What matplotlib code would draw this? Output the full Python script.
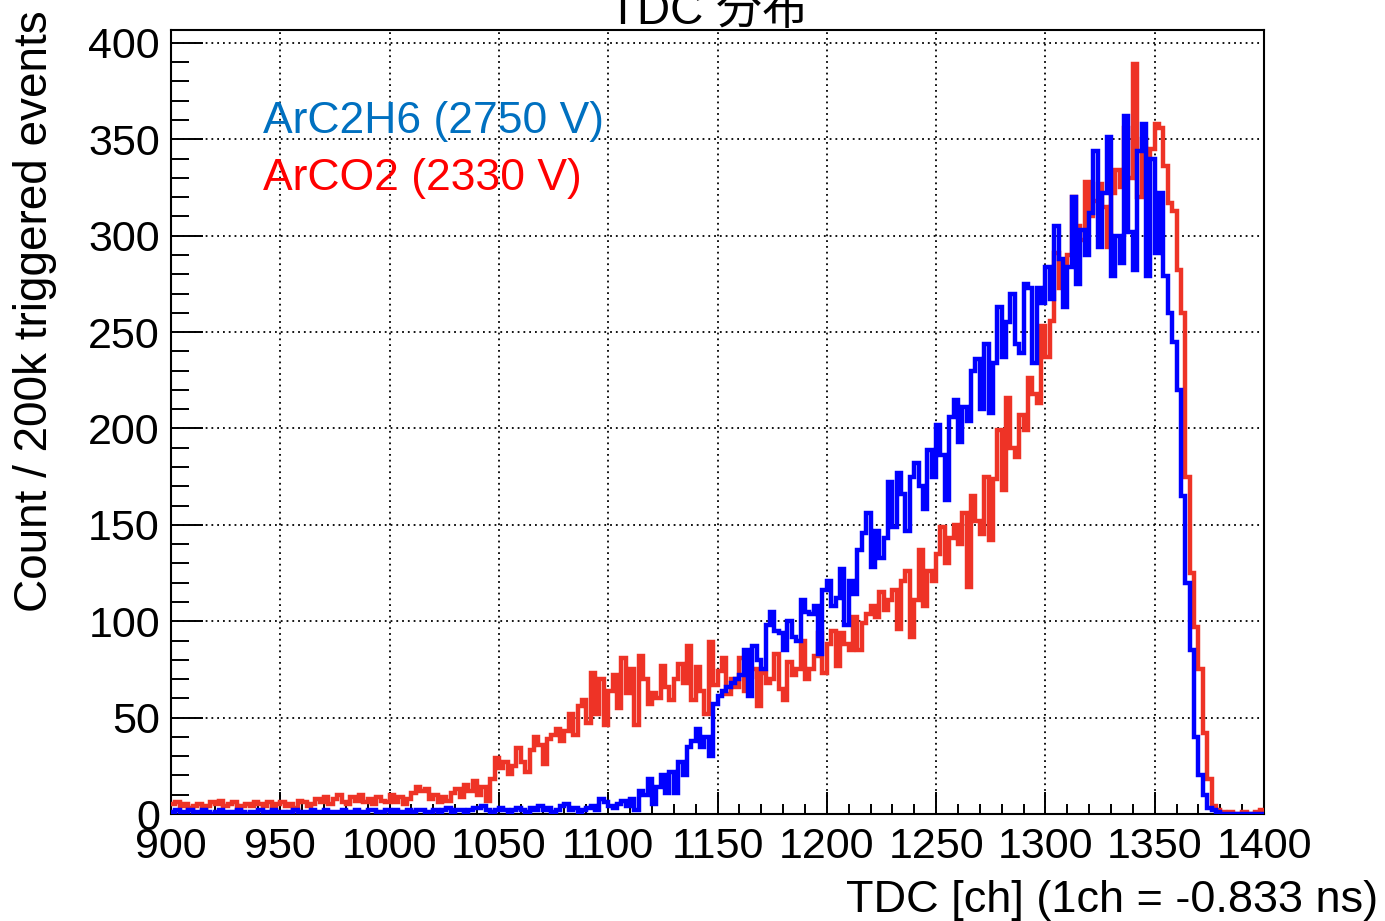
import numpy as np
import matplotlib.pyplot as plt
from matplotlib.ticker import MultipleLocator

# TDC histogram, 2-channel bins from 900 to 1400
bin_width = 2
tdc_start = 900
tdc_stop = 1400

# ArCO2 (2330 V)
arco2_counts = [
    5, 6, 4, 5, 3, 4, 5, 3, 4, 6,
    5, 7, 4, 5, 6, 3, 4, 5, 4, 6,
    5, 4, 6, 3, 5, 6, 4, 5, 3, 7,
    6, 4, 5, 8, 6, 9, 5, 8, 10, 6,
    5, 9, 7, 10, 6, 8, 5, 9, 7, 6,
    10, 6, 9, 5, 8, 11, 14, 12, 13, 8,
    10, 6, 9, 7, 11, 13, 9, 15, 12, 17,
    10, 14, 7, 18, 29, 24, 27, 21, 25, 34,
    27, 22, 33, 40, 36, 26, 39, 41, 44, 38,
    43, 52, 41, 56, 59, 47, 73, 52, 70, 46,
    64, 72, 55, 81, 63, 75, 46, 82, 70, 57,
    63, 60, 77, 66, 59, 70, 78, 68, 87, 59,
    76, 64, 52, 89, 67, 74, 81, 62, 70, 66,
    81, 64, 71, 75, 56, 73, 68, 70, 83, 65,
    59, 79, 72, 75, 90, 70, 75, 82, 94, 73,
    88, 95, 77, 94, 88, 85, 102, 85, 99, 104,
    108, 102, 115, 106, 111, 116, 96, 121, 126, 92,
    111, 137, 108, 126, 121, 135, 149, 130, 143, 150,
    140, 156, 118, 165, 152, 145, 175, 142, 174, 199,
    168, 216, 190, 185, 207, 199, 226, 218, 213, 253,
    237, 256, 291, 273, 284, 290, 320, 305, 298, 328,
    310, 318, 327, 315, 294, 322, 334, 325, 356, 330,
    389, 320, 350, 340, 345, 358, 356, 336, 317, 313,
    282, 260, 175, 125, 97, 75, 42, 18, 4, 2,
    1, 0, 1, 0, 0, 1, 0, 0, 1, 2,
]

# ArC2H6 (2750 V)
arc2h6_counts = [
    1, 2, 1, 1, 2, 1, 1, 2, 1, 0,
    1, 2, 1, 1, 1, 2, 1, 0, 1, 1,
    2, 1, 1, 2, 1, 1, 0, 1, 2, 1,
    1, 1, 2, 1, 1, 2, 1, 1, 1, 2,
    1, 1, 2, 1, 1, 2, 2, 1, 1, 2,
    1, 2, 1, 1, 2, 1, 2, 2, 1, 1,
    2, 1, 2, 3, 1, 2, 2, 1, 2, 3,
    3, 4, 2, 1, 2, 3, 2, 1, 2, 3,
    2, 1, 3, 2, 4, 2, 3, 1, 2, 4,
    5, 2, 3, 1, 2, 3, 4, 2, 8, 6,
    4, 3, 5, 7, 4, 8, 2, 12, 10, 18,
    5, 14, 20, 11, 22, 11, 27, 20, 35, 38,
    44, 35, 40, 30, 57, 61, 64, 66, 68, 70,
    72, 85, 61, 87, 80, 75, 98, 105, 95, 94,
    85, 100, 92, 90, 111, 105, 104, 108, 83, 116,
    121, 108, 112, 127, 98, 121, 114, 137, 146, 156,
    128, 147, 133, 143, 172, 149, 177, 166, 147, 175,
    182, 170, 158, 189, 175, 202, 186, 163, 206, 215,
    193, 211, 204, 230, 236, 210, 244, 208, 234, 263,
    237, 255, 270, 244, 239, 275, 273, 234, 273, 265,
    284, 267, 305, 288, 263, 284, 320, 275, 303, 290,
    312, 344, 294, 322, 351, 279, 300, 286, 362, 302,
    282, 344, 358, 279, 340, 291, 322, 279, 260, 245,
    220, 165, 120, 85, 40, 20, 10, 3, 2, 1,
    0, 0, 0, 0, 0, 0, 0, 0, 0, 0,
]

edges = np.arange(tdc_start, tdc_stop + bin_width, bin_width)
assert len(edges) == len(arco2_counts) + 1 == len(arc2h6_counts) + 1

plt.rcParams['font.family'] = ['Liberation Sans', 'Noto Sans CJK JP', 'DejaVu Sans']

fig = plt.figure(figsize=(13.85, 9.21), dpi=100)
ax = fig.add_axes([171 / 1385, 107 / 921, 1093 / 1385, 784 / 921])

# red first, blue drawn on top
ax.stairs(arco2_counts, edges, baseline=None, color='#ee3326', lw=3.2, zorder=3)
ax.stairs(arc2h6_counts, edges, baseline=None, color='#0000ff', lw=3.2, zorder=4)

ax.set_xlim(900, 1400)
ax.set_ylim(0, 406.7)

ax.xaxis.set_major_locator(MultipleLocator(50))
ax.xaxis.set_minor_locator(MultipleLocator(10))
ax.yaxis.set_major_locator(MultipleLocator(50))
ax.yaxis.set_minor_locator(MultipleLocator(10))

ax.tick_params(axis='x', which='major', direction='in', length=16, width=1.4,
               labelsize=31, pad=9)
ax.tick_params(axis='x', which='minor', direction='in', length=7.5, width=1.4)
ax.tick_params(axis='y', which='major', direction='in', length=23, width=1.4,
               labelsize=31, pad=8)
ax.tick_params(axis='y', which='minor', direction='in', length=13, width=1.4)

for s in ax.spines.values():
    s.set_linewidth(1.5)

ax.grid(True, which='major', color='black', lw=1.3, linestyle=(0, (1, 2.2)), zorder=1)
ax.set_axisbelow(True)

# legend-like labels
fig.text(263 / 1385, 1 - 133 / 921, 'ArC2H6 (2750 V)', color='#0070c0',
         fontsize=32, va='baseline', ha='left')
fig.text(263 / 1385, 1 - 190 / 921, 'ArCO2 (2330 V)', color='#ff0000',
         fontsize=32, va='baseline', ha='left')

fig.text(708 / 1385, 1 - 24 / 921, 'TDC 分布', fontsize=33, ha='center', va='baseline')
fig.text(1378 / 1385, 1 - 912 / 921, 'TDC [ch] (1ch = -0.833 ns)', fontsize=32.5,
         ha='right', va='baseline')
fig.text(57 / 1385, 1 - 10 / 921, 'Count / 200k triggered events', fontsize=33,
         rotation=90, ha='right', va='bottom', rotation_mode='anchor')

fig.savefig('out.png', dpi=100)
